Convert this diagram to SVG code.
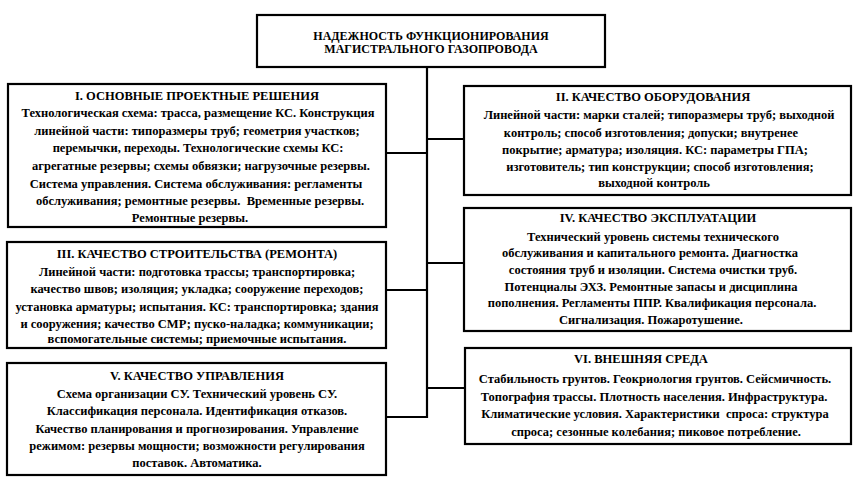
<svg xmlns="http://www.w3.org/2000/svg" width="856" height="480" viewBox="0 0 856 480">
<style>
.box{fill:#fff;stroke:#000;stroke-width:2.2}
.ln{stroke:#000;stroke-width:2.2;fill:none}
text{font-family:"Liberation Serif","Times New Roman",Times,serif;font-weight:bold;font-size:12.5px;fill:#000;text-anchor:middle}
.t{font-size:12px}
</style>
<rect width="856" height="480" fill="#fff"/>
<g id="connectors">
<path class="ln" d="M427,67 V418 M386,153 H427 M386,290 H427 M386,417 H427 M427,139 H464 M427,263 H464 M427,388 H465"/>
</g>
<g id="root">
<rect class="box" x="257" y="15" width="348" height="52"/>
<text class="t" x="431" y="40">НАДЕЖНОСТЬ ФУНКЦИОНИРОВАНИЯ</text>
<text class="t" x="431" y="53">МАГИСТРАЛЬНОГО ГАЗОПРОВОДА</text>
</g>
<g id="n1">
<rect class="box" x="8" y="84" width="378" height="143"/>
<text x="197" y="100">I. ОСНОВНЫЕ ПРОЕКТНЫЕ РЕШЕНИЯ</text>
<text x="198" y="117">Технологическая схема: трасса, размещение КС. Конструкция</text>
<text x="197" y="135">линейной части: типоразмеры труб; геометрия участков;</text>
<text x="198" y="152">перемычки, переходы. Технологические схемы КС:</text>
<text x="201" y="170">агрегатные резервы; схемы обвязки; нагрузочные резервы.</text>
<text x="196" y="188">Система управления. Система обслуживания: регламенты</text>
<text x="200" y="205" xml:space="preserve">обслуживания; ремонтные резервы.  Временные резервы.</text>
<text x="190" y="222">Ремонтные резервы.</text>
</g>
<g id="n3">
<rect class="box" x="7" y="242" width="379" height="106"/>
<text x="197" y="258">III. КАЧЕСТВО СТРОИТЕЛЬСТВА (РЕМОНТА)</text>
<text x="197" y="276">Линейной части: подготовка трассы; транспортировка;</text>
<text x="197" y="293">качество швов; изоляция; укладка; сооружение переходов;</text>
<text x="197" y="311">установка арматуры; испытания. КС: транспортировка; здания</text>
<text x="197" y="328">и сооружения; качество СМР; пуско-наладка; коммуникации;</text>
<text x="197" y="343">вспомогательные системы; приемочные испытания.</text>
</g>
<g id="n5">
<rect class="box" x="7" y="363" width="379" height="112"/>
<text x="197" y="380">V. КАЧЕСТВО УПРАВЛЕНИЯ</text>
<text x="197" y="398">Схема организации СУ. Технический уровень СУ.</text>
<text x="197" y="415">Классификация персонала. Идентификация отказов.</text>
<text x="197" y="433">Качество планирования и прогнозирования. Управление</text>
<text x="197" y="450">режимом: резервы мощности; возможности регулирования</text>
<text x="197" y="467">поставок. Автоматика.</text>
</g>
<g id="n2">
<rect class="box" x="464" y="86" width="387" height="109"/>
<text x="653" y="101">II. КАЧЕСТВО ОБОРУДОВАНИЯ</text>
<text x="659" y="119">Линейной части: марки сталей; типоразмеры труб; выходной</text>
<text x="651" y="137">контроль; способ изготовления; допуски; внутренее</text>
<text x="655" y="154">покрытие; арматура; изоляция. КС: параметры ГПА;</text>
<text x="660" y="171">изготовитель; тип конструкции; способ изготовления;</text>
<text x="654" y="187">выходной контроль</text>
</g>
<g id="n4">
<rect class="box" x="464" y="208" width="387" height="123"/>
<text x="658" y="222">IV. КАЧЕСТВО ЭКСПЛУАТАЦИИ</text>
<text x="653" y="241">Технический уровень системы технического</text>
<text x="650" y="257">обслуживания и капитального ремонта. Диагностка</text>
<text x="653" y="274">состояния труб и изоляции. Система очистки труб.</text>
<text x="651" y="291">Потенциалы ЭХЗ. Ремонтные запасы и дисциплина</text>
<text x="652" y="307">пополнения. Регламенты ППР. Квалификация персонала.</text>
<text x="651" y="324">Сигнализация. Пожаротушение.</text>
</g>
<g id="n6">
<rect class="box" x="465" y="348" width="386" height="96"/>
<text x="641" y="363">VI. ВНЕШНЯЯ СРЕДА</text>
<text x="655" y="383">Стабильность грунтов. Геокриология грунтов. Сейсмичность.</text>
<text x="654" y="401">Топография трассы. Плотность населения. Инфраструктура.</text>
<text x="655" y="418" xml:space="preserve">Климатические условия. Характеристики  спроса: структура</text>
<text x="656" y="436">спроса; сезонные колебания; пиковое потребление.</text>
</g>
</svg>
